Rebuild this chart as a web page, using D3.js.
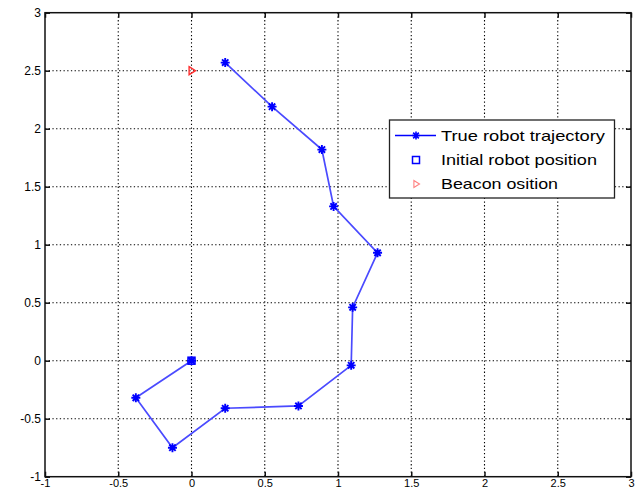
<!DOCTYPE html>
<html>
<head>
<meta charset="utf-8">
<script src="https://cdn.jsdelivr.net/npm/d3@7"></script>
<style>
  html, body { margin: 0; padding: 0; background: #fff; }
  svg { display: block; font-family: Arial, "Liberation Sans", sans-serif; }
</style>
</head>
<body>
<svg id="chart" width="636" height="490"></svg>
<script>
// Robot path (x, y) in world coordinates, starting at the initial position
const trajX = [0, -0.38, -0.13, 0.23, 0.73, 1.09, 1.10, 1.27, 0.97, 0.89, 0.55, 0.23];
const trajY = [0, -0.32, -0.75, -0.41, -0.39, -0.04, 0.46, 0.93, 1.33, 1.82, 2.19, 2.57];
const initialPos = [0, 0];
const beaconPos = [0, 2.5];
const xTicks = [-1, -0.5, 0, 0.5, 1, 1.5, 2, 2.5, 3];
const yTicks = [-1, -0.5, 0, 0.5, 1, 1.5, 2, 2.5, 3];
const legendLabels = ["True robot trajectory", "Initial robot position", "Beacon osition"];

(function () {
const svg = d3.select("#chart");
const plotL = 45, plotR = 631, plotT = 12.7, plotB = 476.7;

const x = d3.scaleLinear().domain([-1, 3]).range([plotL, plotR]);
const y = d3.scaleLinear().domain([-1, 3]).range([plotB, plotT]);

const fmt = d => String(d);

// Grid lines (dotted)
const grid = svg.append("g");
grid.selectAll(".gx").data(xTicks.slice(1, -1)).join("line")
  .attr("x1", d => x(d)).attr("x2", d => x(d))
  .attr("y1", plotT).attr("y2", plotB)
  .attr("stroke", "#000").attr("stroke-width", 1.1).attr("stroke-dasharray", "1.3,2.4");
grid.selectAll(".gy").data(yTicks.slice(1, -1)).join("line")
  .attr("y1", d => y(d)).attr("y2", d => y(d))
  .attr("x1", plotL).attr("x2", plotR)
  .attr("stroke", "#000").attr("stroke-width", 1.1).attr("stroke-dasharray", "1.3,2.4");

// Axes with inward ticks on all four sides
const tickLen = 5;
const gBottom = svg.append("g").attr("transform", `translate(0,${plotB})`)
  .call(d3.axisBottom(x).tickValues(xTicks).tickFormat(fmt).tickSizeInner(-tickLen).tickSizeOuter(0).tickPadding(2.5));
const gLeft = svg.append("g").attr("transform", `translate(${plotL},0)`)
  .call(d3.axisLeft(y).tickValues(yTicks).tickFormat(fmt).tickSizeInner(-tickLen).tickSizeOuter(0).tickPadding(4));
const gTop = svg.append("g").attr("transform", `translate(0,${plotT})`)
  .call(d3.axisTop(x).tickValues(xTicks).tickFormat("").tickSizeInner(-tickLen).tickSizeOuter(0));
const gRight = svg.append("g").attr("transform", `translate(${plotR},0)`)
  .call(d3.axisRight(y).tickValues(yTicks).tickFormat("").tickSizeInner(-tickLen).tickSizeOuter(0));

[gBottom, gLeft, gTop, gRight].forEach(g => {
  g.select(".domain").remove();
  g.selectAll(".tick line").attr("stroke", "#111").attr("stroke-width", 1.5);
  g.selectAll(".tick text").attr("fill", "#000").style("font-size", "12px")
    .style("font-family", "Arial, 'Liberation Sans', sans-serif");
});
gBottom.selectAll(".tick text").style("font-size", "11px");

// Plot frame
svg.append("rect")
  .attr("x", plotL).attr("y", plotT)
  .attr("width", plotR - plotL).attr("height", plotB - plotT)
  .attr("fill", "none").attr("stroke", "#111").attr("stroke-width", 1.5);

// Asterisk marker path centred at 0,0
function starPath(r) {
  const d = r * Math.SQRT1_2;
  return `M${-r},0L${r},0M0,${-r}L0,${r}M${-d},${-d}L${d},${d}M${-d},${d}L${d},${-d}`;
}

const pts = trajX.map((v, i) => [v, trajY[i]]);

// Trajectory line
svg.append("path")
  .datum(pts)
  .attr("d", d3.line().x(d => x(d[0])).y(d => y(d[1])))
  .attr("fill", "none").attr("stroke", "#4a4aff").attr("stroke-width", 1.7);

// Trajectory markers
svg.append("g").selectAll("path").data(pts).join("path")
  .attr("transform", d => `translate(${x(d[0])},${y(d[1])})`)
  .attr("d", starPath(4.5))
  .attr("fill", "none").attr("stroke", "#0000ff").attr("stroke-width", 1.9);

// Initial position (square)
svg.append("rect")
  .attr("x", x(initialPos[0]) - 3.5).attr("y", y(initialPos[1]) - 3.5)
  .attr("width", 7).attr("height", 7)
  .attr("fill", "none").attr("stroke", "#0000ff").attr("stroke-width", 1.5);

// Beacon (right-pointing triangle)
function triPath(r) {
  return `M${-r * 0.6},${-r}L${r},0L${-r * 0.6},${r}Z`;
}
svg.append("path")
  .attr("transform", `translate(${x(beaconPos[0])},${y(beaconPos[1])})`)
  .attr("d", triPath(4))
  .attr("fill", "none").attr("stroke", "#ff3030").attr("stroke-width", 1.4);

// Legend
const lg = svg.append("g");
lg.append("rect")
  .attr("x", 389.5).attr("y", 120).attr("width", 225).attr("height", 78)
  .attr("fill", "#fff").attr("stroke", "#222").attr("stroke-width", 1.3);
const rowY = [135.5, 160, 184];
const textW = [164, 156, 117];
const symX = 416;
lg.append("line").attr("x1", 395).attr("x2", 436).attr("y1", rowY[0]).attr("y2", rowY[0])
  .attr("stroke", "#0000ff").attr("stroke-width", 1.5);
lg.append("path").attr("transform", `translate(${symX},${rowY[0]})`).attr("d", starPath(4))
  .attr("fill", "none").attr("stroke", "#0000ff").attr("stroke-width", 1.6);
lg.append("rect").attr("x", symX - 3.5).attr("y", rowY[1] - 3.5).attr("width", 7).attr("height", 7)
  .attr("fill", "none").attr("stroke", "#0000ff").attr("stroke-width", 1.5);
lg.append("path").attr("transform", `translate(${symX},${rowY[2]})`).attr("d", triPath(3.5))
  .attr("fill", "none").attr("stroke", "#ff8080").attr("stroke-width", 1.1);
lg.selectAll("text").data(legendLabels).join("text")
  .attr("x", 441).attr("y", (d, i) => rowY[i] + 5.3)
  .attr("textLength", (d, i) => textW[i]).attr("lengthAdjust", "spacingAndGlyphs")
  .attr("fill", "#000").style("font-size", "14.5px")
  .text(d => d);
})();
</script>
</body>
</html>
